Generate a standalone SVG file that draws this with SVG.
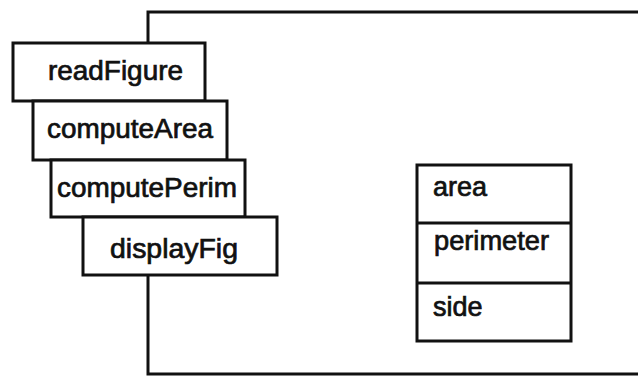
<svg xmlns="http://www.w3.org/2000/svg" width="638" height="377" viewBox="0 0 638 377">
<style>
.box{fill:#fff;stroke:#111;stroke-width:3}
.ln{fill:none;stroke:#111;stroke-width:3}
.t{font-family:"Liberation Sans",Arial,sans-serif;font-size:27px;fill:#111;stroke:#111;stroke-width:0.7}
</style>
<rect width="638" height="377" fill="#fff"/>
<g id="connectors">
<polyline class="ln" points="148,43 148,12 638,12"/>
<polyline class="ln" points="148,275 148,374 638,374"/>
</g>
<g id="readFigure">
<rect class="box" x="13" y="43" width="192" height="58"/>
<text class="t" x="48" y="80" textLength="135" lengthAdjust="spacingAndGlyphs">readFigure</text>
</g>
<g id="computeArea">
<rect class="box" x="33" y="101" width="194" height="59"/>
<text class="t" x="47" y="138" textLength="166" lengthAdjust="spacingAndGlyphs">computeArea</text>
</g>
<g id="computePerim">
<rect class="box" x="51" y="160" width="194" height="57"/>
<text class="t" x="57" y="197" textLength="180" lengthAdjust="spacingAndGlyphs">computePerim</text>
</g>
<g id="displayFig">
<rect class="box" x="83" y="217" width="194" height="58"/>
<text class="t" x="110" y="258" textLength="128" lengthAdjust="spacingAndGlyphs">displayFig</text>
</g>
<g id="attributes">
<rect class="box" x="417" y="165" width="154" height="176"/>
<line class="ln" x1="417" y1="223" x2="571" y2="223"/>
<line class="ln" x1="417" y1="283" x2="571" y2="283"/>
<text class="t" x="433" y="196">area</text>
<text class="t" x="434" y="250" textLength="115" lengthAdjust="spacingAndGlyphs">perimeter</text>
<text class="t" x="433" y="316">side</text>
</g>
</svg>
